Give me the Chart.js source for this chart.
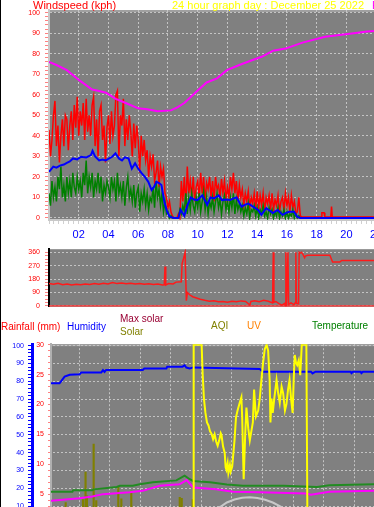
<!DOCTYPE html>
<html><head><meta charset="utf-8">
<script src="https://cdn.jsdelivr.net/npm/chart.js@4/dist/chart.umd.min.js"></script>
<style>
html,body{margin:0;padding:0;background:#fff;}
#wrap{position:relative;width:374px;height:507px;overflow:hidden;background:#fff;}
#wrap canvas{position:absolute;left:0;}
.t{position:absolute;font-family:"Liberation Sans",Arial,sans-serif;white-space:nowrap;line-height:1;}
#edge{position:absolute;left:0;top:0;width:1px;height:507px;background:#000;}
</style></head><body>
<div id="wrap">
<canvas id="c1" width="416" height="245" style="top:0px"></canvas>
<canvas id="c2" width="416" height="76" style="top:240px"></canvas>
<canvas id="c3" width="420" height="208" style="top:336px"></canvas>
<span class="t" style="left:33px;top:0px;font-size:11px;color:#ff0000">Windspeed (kph)</span>
<span class="t" style="left:172px;top:0px;font-size:11px;color:#ffff00">24 hour graph day : December 25 2022</span>
<span class="t" style="left:372px;top:0px;font-size:11px;color:#ff00ff">E</span>
<span class="t" style="left:1px;top:322px;font-size:10px;color:#ff0000">Rainfall (mm)</span>
<span class="t" style="left:67px;top:322px;font-size:10px;color:#0000ff">Humidity</span>
<span class="t" style="left:120px;top:314px;font-size:10px;color:#990033">Max solar</span>
<span class="t" style="left:120px;top:327px;font-size:10px;color:#808000">Solar</span>
<span class="t" style="left:211px;top:321px;font-size:10px;color:#808000">AQI</span>
<span class="t" style="left:247px;top:321px;font-size:10px;color:#ff8000">UV</span>
<span class="t" style="left:312px;top:321px;font-size:10px;color:#008000">Temperature</span>
<div id="edge"></div>
</div>
<script>
// ---------- DATA ----------
// Panel 1: wind (kph), 0.1 h sampling from 00:00 to 16:54
const gust = [
43,30,38,50,57,35,45,27,40,48,
35,50,48,33,45,52,38,55,44,59,
40,52,45,56,38,58,42,50,40,55,
59,35,48,30,52,55,38,45,27,44,
50,36,52,40,45,60,62,30,50,45,
58,35,48,38,50,42,30,46,34,45,
38,22,40,30,38,28,33,20,30,25,
31,18,22,28,15,25,20,24,12,10,
5,8,3,1,0,0,0,2,0,18,
8,20,5,25,12,18,10,20,8,15,
18,10,22,12,20,8,17,14,20,10,
18,8,20,14,16,10,19,12,18,9,
15,10,20,14,22,12,18,8,16,10,
14,6,12,8,13,5,10,7,12,4,
13,5,11,6,12,3,10,7,11,4,
12,4,9,6,11,3,8,10,4,12,
6,10,3,11,5,8,2,3,10,1
];
const gustTail = [[17,0.5],[18.3,0.5],[18.35,2.5],[18.5,2.5],[18.55,0.5],[18.95,0.5],[19.0,5.5],[19.05,0.5],[24,0.5]];
const speed = [
12,6,18,10,15,8,20,14,25,10,
16,8,20,12,18,10,22,15,12,20,
14,18,10,22,16,28,12,20,15,22,
10,18,14,22,12,20,8,16,12,18,
15,10,20,14,18,8,22,12,16,10,
18,6,15,20,10,14,8,16,5,12,
15,3,12,8,14,6,12,4,10,8,
15,5,18,10,14,6,12,3,8,2,
3,0,1,0,0,0,0,0,4,2,
6,3,12,2,10,4,12,6,3,10,
5,12,3,8,13,4,10,2,8,5,
10,3,8,12,5,9,2,8,11,4,
8,3,10,5,12,2,9,4,7,3,
6,1,5,2,7,0,4,3,6,1,
5,0,4,2,6,1,3,0,5,2,
4,0,3,1,5,0,3,1,4,0,
3,0,2,1,4,0,2,0,1,0
];
const speedTail = [[17,0],[24,0]];
const avgWind = [[0,22.5],[0.29,25],[0.5,24.5],[0.73,25.5],[1.0,26],[1.17,26.7],[1.4,27.5],[1.61,29],[1.9,28.5],[2.16,29.8],[2.5,29.5],[2.82,30.6],[2.93,32.7],[3.1,30],[3.37,28],[3.6,28.5],[3.81,28],[4.05,29],[4.25,29.8],[4.47,31.5],[4.7,29],[4.91,28],[5.1,29.5],[5.35,29],[5.57,24],[5.79,26.7],[6.0,24],[6.24,21.7],[6.45,20],[6.68,17.6],[6.9,13.6],[7.05,15],[7.23,17.6],[7.4,17],[7.56,16],[7.78,7],[7.95,3],[8.11,0.6],[8.4,0],[8.7,0],[8.85,4],[9.1,1],[9.3,6],[9.54,10],[9.75,9],[9.98,8.7],[10.31,11],[10.64,6.3],[10.86,10],[11.1,9.5],[11.41,11],[11.63,8.7],[11.9,9],[12.18,8.7],[12.4,9.5],[12.62,10],[12.95,5.5],[13.2,6.5],[13.4,7],[13.72,5.5],[14.06,3.9],[14.28,1.5],[14.61,4.8],[14.85,3.5],[15.05,2.4],[15.38,3.9],[15.71,1.5],[15.95,2.5],[16.15,3],[16.48,3],[16.7,0.5],[16.9,0],[24,0]];
const pinkCurve = [[0,76],[0.5,74.5],[1.2,72],[2.05,67],[2.9,62.6],[3.3,62],[3.83,61],[4.49,58],[5.16,56],[6.0,53.4],[6.6,53],[7.3,52],[8.2,52.4],[8.66,54],[9.1,56],[9.98,62],[10.6,66],[11.3,68],[11.96,72],[12.8,74.5],[13.6,76.7],[14.3,78.5],[15.07,81.5],[15.9,82.5],[17.05,85.4],[18.57,88.3],[20.36,89.8],[21.4,90.8],[24,92]];

// Panel 2: wind direction (degrees)
const direction = [[0,150],[0.3,145],[0.6,152],[0.9,143],[1.2,148],[1.5,140],[1.8,146],[2.1,142],[2.4,147],[2.7,144],[3.0,150],[3.3,146],[3.6,152],[3.9,148],[4.2,158],[4.5,150],[4.8,154],[5.1,149],[5.4,153],[5.7,147],[6.0,151],[6.3,146],[6.6,149],[6.9,144],[7.2,147],[7.5,140],[7.62,142],[7.67,265],[7.72,140],[7.9,150],[8.2,148],[8.4,160],[8.75,162],[8.8,285],[8.9,320],[9.0,360],[9.05,360],[9.08,35],[9.15,90],[9.3,75],[9.5,62],[9.7,55],[10.0,45],[10.3,38],[10.6,32],[10.9,35],[11.2,28],[11.5,30],[11.8,25],[12.1,32],[12.4,28],[12.7,34],[13.0,30],[13.28,6],[13.35,30],[13.6,35],[13.9,28],[14.2,38],[14.5,32],[14.78,20],[14.83,360],[14.87,25],[15.0,30],[15.2,15],[15.4,5],[15.6,18],[15.64,2],[15.66,360],[15.7,0],[15.8,360],[15.84,10],[16.0,20],[16.2,8],[16.3,25],[16.32,360],[16.36,18],[16.5,15],[16.54,360],[16.6,355],[16.7,360],[16.8,345],[16.9,324],[16.95,335],[17.1,340],[18.57,340],[18.75,295],[19.23,295],[19.35,305],[24,305]];
const dirZero = [[0,0],[24,0]];

// Panel 3
const humidity = [[0,78.9],[0.56,78.9],[0.89,82.6],[1.22,83.7],[1.87,83.9],[1.98,85],[3.29,85],[3.4,86.3],[3.5,85.3],[3.6,86.3],[6.0,86.3],[6.1,87.2],[7.55,87.2],[7.6,88.2],[8.6,88.2],[8.74,89],[8.85,87.7],[9.07,87.2],[9.3,87.8],[13.65,86.9],[13.85,85.4],[17.0,85.4],[17.1,84.4],[17.3,85.4],[19.6,85.4],[19.65,84.6],[19.75,85.4],[20.25,85.4],[20.3,84.6],[20.4,85.4],[24,85.4]];
const temperature = [[0,5.4],[1.4,5.4],[1.45,5.65],[2.7,5.65],[2.8,5.8],[4.3,6.2],[4.5,6.4],[5.35,6.4],[5.8,6.65],[6.66,7.0],[8.2,7.3],[8.74,8.1],[9.07,7.5],[9.29,7.2],[9.7,7.1],[10.4,7.0],[11.5,6.6],[12.55,6.4],[15.2,6.4],[17.4,6.2],[18.2,6.5],[21.1,6.65],[24,6.7]];
const dewCurve = [[0,3.9],[0.77,4.06],[1.87,4.3],[2.7,4.6],[3.4,5.0],[5.14,5.3],[6.0,5.55],[7.1,6.4],[8.4,6.65],[8.87,7.35],[9.3,6.1],[10.8,5.8],[11.9,5.4],[13.65,5.3],[16.7,5.1],[17.0,4.9],[18.2,5.4],[21.1,5.55],[24,5.6]];
const aqi = [[0,0],[9.3,0],[9.33,30],[9.85,30],[9.92,25],[10.0,21],[10.1,18.6],[10.2,17],[10.3,16.5],[10.4,15.5],[10.5,15.1],[10.6,14.2],[10.7,15],[10.8,13.8],[10.9,13.1],[11.0,14],[11.1,15.2],[11.15,14.9],[11.25,13],[11.36,11.9],[11.42,9.5],[11.47,9.1],[11.55,10.2],[11.6,8.6],[11.7,9.9],[11.75,8.8],[11.85,9.6],[11.9,9.6],[12.0,14],[12.1,17.9],[12.2,19],[12.34,20.3],[12.45,21.2],[12.5,18],[12.6,7.5],[12.7,15],[12.78,19.5],[12.9,16],[13.0,14],[13.1,15.5],[13.2,17.0],[13.28,22.5],[13.4,18],[13.55,19],[13.65,21],[13.76,24.1],[13.87,27],[13.98,29.3],[14.1,30],[14.2,29],[14.3,24],[14.35,17],[14.42,21],[14.5,18.6],[14.6,21],[14.75,24.1],[14.85,22],[14.96,20.3],[15.08,23],[15.18,21.9],[15.3,19],[15.4,20.1],[15.5,22.5],[15.6,24.1],[15.7,21],[15.8,18.6],[15.87,24],[15.94,28.3],[16.02,27],[16.1,26.6],[16.2,27.4],[16.3,24.9],[16.4,30],[16.7,30],[16.77,0],[24,0]];
const maxSolar = [[10.0,1.2],[10.5,2.2],[11.15,3.0],[11.5,3.6],[12.0,4.1],[12.5,4.4],[13.0,4.46],[13.5,4.35],[14.0,4.05],[14.5,3.6],[14.96,3.0],[15.5,2.2],[16.0,1.2]];
const solarBars = [[0.96,3.6],[2.09,4.1],[2.26,8.7],[2.35,4.7],[2.79,13.4],[2.96,3.9],[4.4,6.2],[4.6,4.2],[5.25,5.5],[8.42,4.45],[8.55,4.3],[9.27,4.1]];

const hourLabels = ['00','02','04','06','08','10','12','14','16','18','20','22','24'];
const windTicks = [0,10,20,30,40,50,60,70,80,90,100];
const dirTicks = [0,90,180,270,360];
const humTicks = [0,10,20,30,40,50,60,70,80,90,100];
const rainTicks = [0,5,10,15,20,25,30];

// ---------- HELPERS ----------
Chart.defaults.font.family = '"Liberation Sans", Arial, sans-serif';
const pts = a => a.map(p => ({x:p[0], y:p[1]}));
const sampled = (arr, step) => arr.map((v,i) => ({x: i*step, y: v}));
const GRID = '#c4c4c4';
const NONE = 'rgba(0,0,0,0)';

const bgPlugin = {
  id: 'plotbg',
  beforeDraw(chart, args, o) {
    const {ctx, chartArea: a} = chart;
    ctx.save();
    ctx.fillStyle = '#808080';
    ctx.fillRect(a.left, a.top, a.right - a.left, a.bottom - a.top);
    if (o.strip) { ctx.fillStyle = o.strip; ctx.fillRect(a.left, a.top, a.right - a.left, 2); }
    ctx.restore();
  }
};

function minorTicks(max, step) {
  const t = []; for (let v = 0; v <= max + 1e-9; v += step) t.push({value: Math.round(v*1000)/1000}); return t;
}
function hourAxis(showLabels, h) {
  return {
    type: 'linear', min: 0, max: 24,
    afterBuildTicks: s => { s.ticks = []; for (let i = 0; i <= 72; i++) s.ticks.push({value: i/3}); },
    afterFit: s => { s.height = h; },
    ticks: {
      autoSkip: false, maxRotation: 0, padding: 4, color: '#0000ff', font: {size: 11},
      display: showLabels,
      callback: v => { const k = Math.round(v*3); if (k % 6 !== 0 || k === 0) return ''; return hourLabels[k/6]; }
    },
    grid: {
      color: c => (c.tick && Math.round(c.tick.value*3) % 6 === 0) ? GRID : NONE,
      tickColor: '#d0d0d0', tickLength: 4, lineWidth: 1
    },
    border: {color: '#c8c8c8', width: 2, dash: [2,2]}
  };
}

const common = (padding) => ({
  responsive: false, animation: false, events: [],
  layout: {padding},
  plugins: {legend: {display: false}, tooltip: {enabled: false}},
  elements: {point: {radius: 0}, line: {tension: 0}}
});

// ---------- PANEL 1: WIND SPEED ----------
new Chart(document.getElementById('c1'), {
  type: 'line',
  data: {datasets: [
    {data: pts(avgWind), borderColor: '#0000ff', borderWidth: 2},
    {data: pts(pinkCurve), borderColor: '#ff00ff', borderWidth: 2},
    {data: sampled(speed, 0.1).concat(pts(speedTail)), borderColor: '#008000', borderWidth: 1.5},
    {data: sampled(gust, 0.1).concat(pts(gustTail)), borderColor: '#ff0000', borderWidth: 1.5}
  ]},
  options: Object.assign(common({top: 10, right: 4, left: 0, bottom: 0}), {
    plugins: {legend: {display: false}, tooltip: {enabled: false}, plotbg: {strip: '#a0a0a0'}},
    scales: {
      x: hourAxis(true, 25),
      y: {
        min: -1, max: 101.3,
        afterBuildTicks: s => { s.ticks = minorTicks(100, 2); },
        afterFit: s => { s.width = 49; },
        ticks: {autoSkip: false, padding: 5, color: '#ff0000', font: {size: 7},
          callback: v => windTicks.includes(v) ? String(v) : ''},
        grid: {color: c => (c.tick && windTicks.includes(c.tick.value)) ? GRID : NONE,
          tickColor: '#ff8080', tickLength: 4},
        border: {color: '#c8c8c8', width: 2, dash: [2,2]}
      }
    }
  }),
  plugins: [bgPlugin]
});

// ---------- PANEL 2: WIND DIRECTION ----------
new Chart(document.getElementById('c2'), {
  type: 'line',
  data: {datasets: [
    {data: pts(direction), borderColor: '#ff1a1a', borderWidth: 1.5},
    {data: pts(dirZero), borderColor: '#ff3030', borderWidth: 1.5}
  ]},
  options: Object.assign(common({top: 4, right: 4, left: 0, bottom: 4}), {
    scales: {
      x: {type: 'linear', min: 0, max: 24, display: false},
      y: {
        min: -5.7, max: 381,
        afterBuildTicks: s => { s.ticks = minorTicks(360, 22.5); },
        afterFit: s => { s.width = 49; },
        ticks: {autoSkip: false, padding: 5, color: '#ff0000', font: {size: 7},
          callback: v => dirTicks.includes(v) ? String(v) : ''},
        grid: {color: c => (c.tick && dirTicks.includes(c.tick.value)) ? GRID : NONE,
          tickColor: '#ff8080', tickLength: 4},
        border: {color: '#000000', width: 2, dash: [2,2]}
      }
    }
  }),
  plugins: [bgPlugin]
});

// ---------- PANEL 3: RAIN / HUMIDITY / TEMPERATURE ----------
new Chart(document.getElementById('c3'), {
  type: 'line',
  data: {datasets: [
    {label: 'AQI', data: pts(aqi), borderColor: '#ffff00', borderWidth: 2, yAxisID: 'rain'},
    {label: 'Humidity', data: pts(humidity), borderColor: '#0000ff', borderWidth: 2, yAxisID: 'hum'},
    {label: 'Temperature', data: pts(temperature), borderColor: '#228b22', borderWidth: 2, yAxisID: 'rain'},
    {label: 'Dew', data: pts(dewCurve), borderColor: '#ff00ff', borderWidth: 2, yAxisID: 'rain'},
    {label: 'Max solar', data: pts(maxSolar), borderColor: '#c8c8c8', borderWidth: 2, yAxisID: 'rain'},
    {label: 'Solar', type: 'bar', data: pts(solarBars), backgroundColor: '#808000', borderWidth: 0, barThickness: 1.5, yAxisID: 'rain'}
  ]},
  options: Object.assign(common({top: 6, right: 2, left: 0, bottom: 0}), {
    plugins: {legend: {display: false}, tooltip: {enabled: false}, plotbg: {strip: '#a0a0a0'}},
    scales: {
      x: Object.assign(hourAxis(false, 20), {offset: false}),
      hum: {
        position: 'left', weight: 1, min: 0, max: 100.8,
        afterBuildTicks: s => { s.ticks = minorTicks(100, 2); },
        afterFit: s => { s.width = 32; },
        ticks: {autoSkip: false, padding: 4, color: '#0000ff', font: {size: 7},
          callback: v => humTicks.includes(v) ? String(v) : ''},
        grid: {color: c => (c.tick && humTicks.includes(c.tick.value)) ? GRID : NONE,
          tickColor: '#0000ff', tickLength: 4},
        border: {color: '#0000ff', width: 3, dash: [2,2]}
      },
      rain: {
        position: 'left', weight: 0, min: 0, max: 30.1,
        afterBuildTicks: s => { s.ticks = minorTicks(30, 1); },
        afterFit: s => { s.width = 19; },
        ticks: {autoSkip: false, padding: 4, color: '#ff0000', font: {size: 7},
          callback: v => rainTicks.includes(v) ? String(v) : ''},
        grid: {drawOnChartArea: false, color: NONE, tickColor: '#ff8080', tickLength: 3},
        border: {color: '#b0b0b0', width: 2}
      }
    }
  }),
  plugins: [bgPlugin]
});
</script>
</body></html>
